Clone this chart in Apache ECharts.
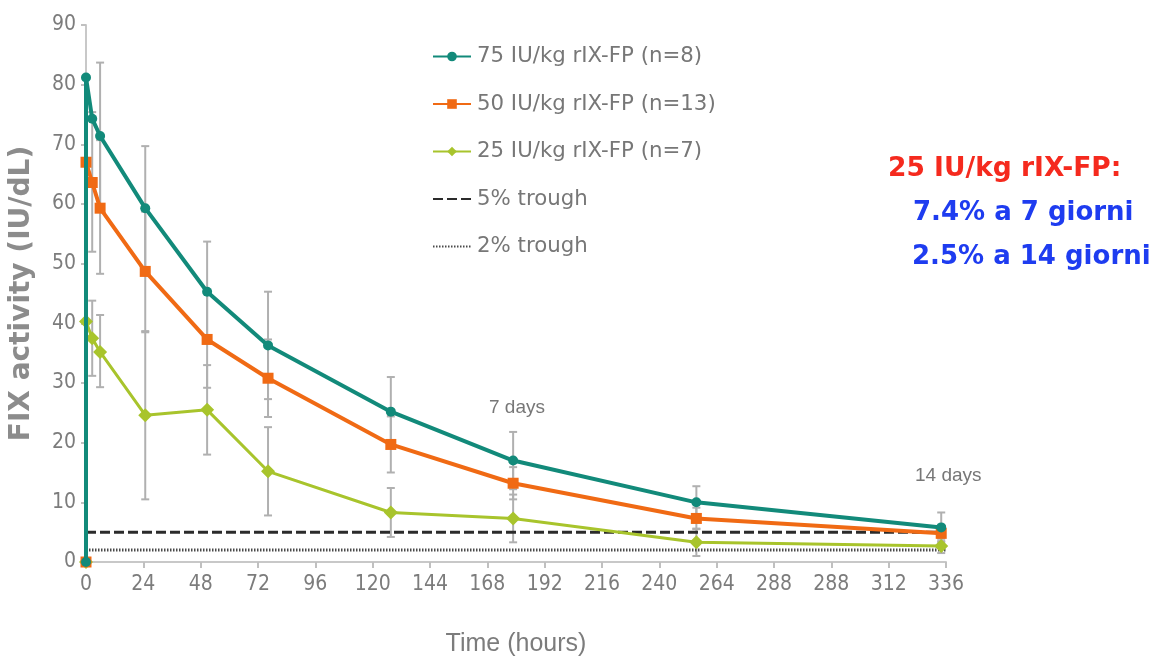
<!DOCTYPE html>
<html>
<head>
<meta charset="utf-8">
<script src="https://cdn.jsdelivr.net/npm/echarts@6/dist/echarts.min.js"></script>
<style>html,body{margin:0;padding:0;background:#fff;}#c{width:1163px;height:662px;}</style>
</head>
<body>
<div id="c"></div>
<script>
// ---- data ----
const tickLabels = ['0','24','48','72','96','120','144','168','192','216','240','264','288','288','312','336'];
const timePoints = [0, 0, 2.6, 5.9, 24.8, 50.7, 76.2, 127.6, 178.8, 255.5, 358];
const seriesNames = ['75 IU/kg rIX-FP (n=8)', '50 IU/kg rIX-FP (n=13)', '25 IU/kg rIX-FP (n=7)', '5% trough', '2% trough'];
const dose75 = [0, 81.2, 74.3, 71.4, 59.3, 45.3, 36.3, 25.2, 17.0, 10.0, 5.8];
const dose50 = [0, 67.0, 63.6, 59.3, 48.7, 37.3, 30.8, 19.7, 13.2, 7.3, 4.8];
const dose25 = [0, 40.3, 37.5, 35.2, 24.6, 25.5, 15.2, 8.3, 7.3, 3.3, 2.7];
const err75Low  = [null, null, null, 58.9, 49.0, 36.9, 27.3, 19.4, 12.2, 7.3, 3.3];
const err75High = [null, null, null, 83.7, 69.7, 53.7, 45.3, 31.0, 21.8, 12.7, 8.3];
const err50Low  = [null, null, 52.0, 48.3, 38.7, 29.2, 24.3, 15.0, 10.5, 5.5, 3.5];
const err50High = [null, null, 75.4, 70.7, 58.7, 45.4, 37.3, 24.4, 15.9, 9.1, 6.1];
const err25Low  = [null, null, 31.2, 29.3, 10.5, 18.0, 7.8, 4.2, 3.3, 1.0, 1.5];
const err25High = [null, null, 43.8, 41.4, 38.5, 33.0, 22.6, 12.4, 11.3, 5.6, 3.9];
const trough5 = 5;
const trough2 = 2;
const xRange = [0, 360];
const annotations = ['25 IU/kg rIX-FP:', '7.4% a 7 giorni', '2.5% a 14 giorni'];
const dayLabels = ['7 days', '14 days'];

// ---- build ----
function pairs(vals) { return vals.map((v, i) => [timePoints[i], v]); }
function errs(lo, hi) {
  const out = [];
  lo.forEach((l, i) => { if (l != null && hi[i] != null) out.push([timePoints[i], l, hi[i]]); });
  return out;
}
const errData = [].concat(errs(err75Low, err75High), errs(err50Low, err50High), errs(err25Low, err25High));

const narrow = '"Liberation Sans Narrow", "DejaVu Sans Condensed", "Liberation Sans", sans-serif';
const gray = '#7c7c7c';

const chart = echarts.init(document.getElementById('c'));
chart.setOption({
  backgroundColor: '#fff',
  animation: false,
  grid: { left: 86, right: 217, top: 25, bottom: 97 },
  legend: {
    orient: 'vertical', left: 432, top: 46, padding: 0,
    itemWidth: 38, itemHeight: 12, itemGap: 26.5,
    data: [
      { name: seriesNames[0] },
      { name: seriesNames[1] },
      { name: seriesNames[2] },
      { name: seriesNames[3], itemStyle: { opacity: 0 } },
      { name: seriesNames[4], itemStyle: { opacity: 0 } }
    ],
    textStyle: { fontFamily: '"DejaVu Sans", sans-serif', fontSize: 21.3, color: '#777', padding: [0, 0, 0, 1] }
  },
  xAxis: {
    type: 'value', min: xRange[0], max: xRange[1], interval: 24,
    name: 'Time (hours)', nameLocation: 'middle', nameGap: 70,
    nameTextStyle: { fontFamily: '"Liberation Sans", sans-serif', fontSize: 25, color: gray },
    axisLine: { lineStyle: { color: '#c8c8c8', width: 2 } },
    axisTick: { show: true, length: 6, lineStyle: { color: '#c0c0c0', width: 2 } },
    axisLabel: { margin: 12, fontFamily: narrow, fontSize: 21, color: gray,
      formatter: v => tickLabels[Math.round(v / 24)] },
    splitLine: { show: false }
  },
  yAxis: {
    type: 'value', min: 0, max: 90, interval: 10,
    name: 'FIX activity (IU/dL)', nameLocation: 'middle', nameGap: 50, nameRotate: 90,
    nameTextStyle: { fontFamily: '"DejaVu Sans", sans-serif', fontWeight: 'bold', fontSize: 28, color: '#8c8c8c' },
    axisLine: { show: true, lineStyle: { color: '#c8c8c8', width: 2 } },
    axisTick: { show: true, length: 5, lineStyle: { color: '#c0c0c0', width: 2 } },
    axisLabel: { margin: 10, fontFamily: narrow, fontSize: 21, color: gray },
    splitLine: { show: false }
  },
  series: [
    {
      type: 'custom', name: 'err', z: 1, silent: true,
      data: errData,
      encode: { x: 0, y: [1, 2] },
      renderItem: function (params, api) {
        const x = api.value(0);
        const lo = api.coord([x, api.value(1)]);
        const hi = api.coord([x, api.value(2)]);
        const cap = 4;
        const st = { stroke: '#b0b0b0', lineWidth: 2 };
        return { type: 'group', children: [
          { type: 'line', shape: { x1: lo[0], y1: lo[1], x2: hi[0], y2: hi[1] }, style: st },
          { type: 'line', shape: { x1: lo[0] - cap, y1: lo[1], x2: lo[0] + cap, y2: lo[1] }, style: st },
          { type: 'line', shape: { x1: hi[0] - cap, y1: hi[1], x2: hi[0] + cap, y2: hi[1] }, style: st }
        ]};
      }
    },
    {
      type: 'line', name: seriesNames[3], z: 2, symbol: 'none',
      data: [[xRange[0], trough5], [xRange[1], trough5]],
      lineStyle: { color: '#2b2b2b', width: 3, type: [10, 4] }, itemStyle: { color: '#2b2b2b' }
    },
    {
      type: 'line', name: seriesNames[4], z: 2, symbol: 'none',
      data: [[xRange[0], trough2], [xRange[1], trough2]],
      lineStyle: { color: '#4a4a4a', width: 3, type: [1.5, 1.5] }, itemStyle: { color: '#4a4a4a' }
    },
    {
      type: 'line', name: seriesNames[2], z: 3, symbol: 'diamond', symbolSize: 14,
      data: pairs(dose25),
      lineStyle: { color: '#a8c42c', width: 3 }, itemStyle: { color: '#a8c42c' }
    },
    {
      type: 'line', name: seriesNames[1], z: 4, symbol: 'rect', symbolSize: 11,
      data: pairs(dose50),
      lineStyle: { color: '#f06a14', width: 4 }, itemStyle: { color: '#f06a14' }
    },
    {
      type: 'line', name: seriesNames[0], z: 5, symbol: 'circle', symbolSize: 10,
      data: pairs(dose75),
      lineStyle: { color: '#128a7a', width: 4 }, itemStyle: { color: '#128a7a' }
    }
  ],
  graphic: [
    { type: 'text', left: 888, top: 156, style: { text: annotations[0], fill: '#f52a1e', fontFamily: '"DejaVu Sans", sans-serif', fontWeight: 'bold', fontSize: 26.5 } },
    { type: 'text', left: 913, top: 200, style: { text: annotations[1], fill: '#1e3cf0', fontFamily: '"DejaVu Sans", sans-serif', fontWeight: 'bold', fontSize: 26 } },
    { type: 'text', left: 912, top: 244, style: { text: annotations[2], fill: '#1e3cf0', fontFamily: '"DejaVu Sans", sans-serif', fontWeight: 'bold', fontSize: 26 } },
    { type: 'text', left: 489, top: 398, style: { text: dayLabels[0], fill: '#777', fontFamily: '"Liberation Sans", sans-serif', fontSize: 19 } },
    { type: 'text', left: 915, top: 466, style: { text: dayLabels[1], fill: '#777', fontFamily: '"Liberation Sans", sans-serif', fontSize: 19 } }
  ]
});
</script>
</body>
</html>
